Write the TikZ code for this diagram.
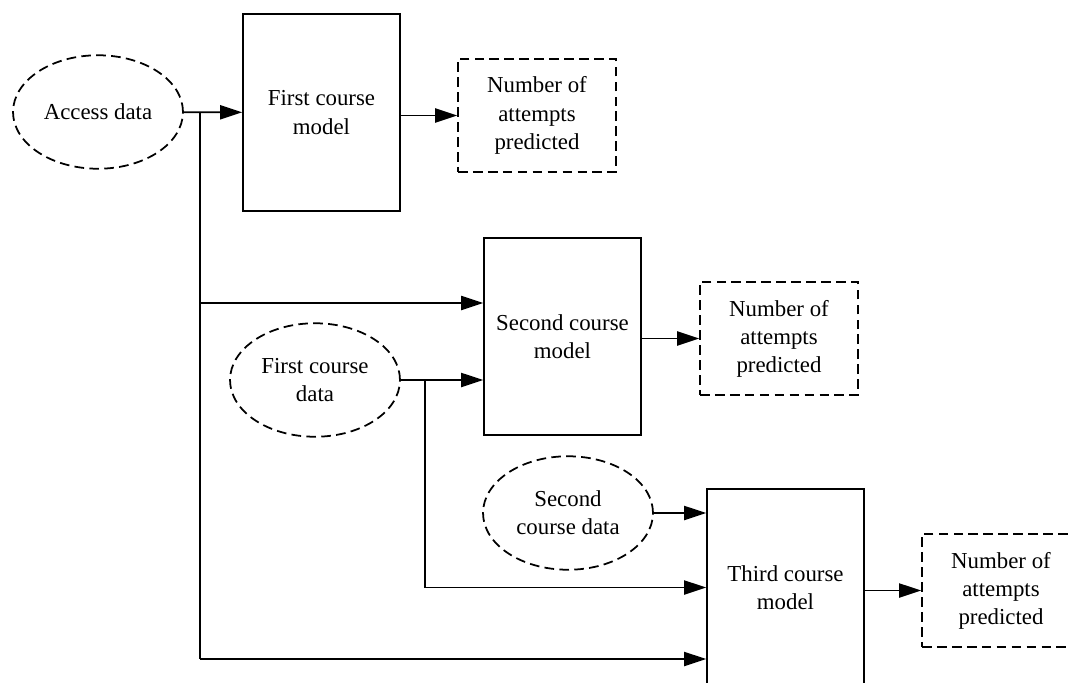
\documentclass[tikz,border=0pt]{standalone}
\usepackage{fontspec}
\setmainfont{Liberation Serif}
\usetikzlibrary{arrows.meta,shapes.geometric,positioning,calc}
\tikzset{
  dat/.style  = { draw, ellipse, line width=1pt, dash pattern=on 5.5pt off 3pt,
    minimum width=3.4cm, minimum height=2.27cm, inner sep=0pt, align=center },
  mdl/.style  = { draw, rectangle, line width=1pt, minimum width=3.14cm,
    minimum height=3.94cm, inner sep=0pt, align=center },
  res/.style  = { draw, rectangle, line width=1pt, dash pattern=on 5.5pt off 3pt,
    minimum width=3.16cm, minimum height=2.27cm, inner sep=0pt, align=center },
  lnk/.style  = { line width=1pt },
  arw/.style  = { lnk, -{Triangle[length=12.5pt,width=8pt]} }
}

\begin{document}
\begin{tikzpicture}[x=0.02cm,y=-0.02cm,font=\fontsize{13pt}{16pt}\selectfont]
    \useasboundingbox (0,0) rectangle (1070,682);
    \clip (0,0) rectangle (1070,682);
    % inputs, models, outputs
    \node[dat] (v0) at (98,112) {Access data};
    \node[dat] (v1) at (315,380) {First course\\data};
    \node[dat] (v2) at (568,513) {Second\\course data};
    \node[mdl] (m1) at (321.5,112.5) {First course\\model};
    \node[mdl] (m2) at (562.5,336.5) {Second course\\model};
    \node[mdl] (m3) at (785.5,587.5) {Third course\\model};
    \node[res] (o1) at (537,115.5) {Number of\\attempts\\predicted};
    \node[res] (o2) at (779,338.5) {Number of\\attempts\\predicted};
    \node[res] (o3) at (1001,590.5) {Number of\\attempts\\predicted};

    \coordinate (j0) at (200,112);
    \coordinate (t1) at (200,303);
    \coordinate (t2) at (200,659);
    \coordinate (j1) at (425,380);

    \draw[arw] (v0) -- (m1);
    \draw[lnk] (j0) -- (t2);
    \draw[arw] (t1) -- (t1 -| m2.west);
    \draw[arw] (t2) -- (t2 -| m3.west);
    \draw[arw] (v1) -- (v1 -| m2.west);
    \draw[arw] (j1) |- (m3.west);
    \draw[arw] (v2) -- (v2 -| m3.west);

    \draw[arw] (o1.west -| m1.east) -- (o1);
    \draw[arw] (o2.west -| m2.east) -- (o2);
    \draw[arw] (o3.west -| m3.east) -- (o3);
  \end{tikzpicture}
\end{document}
